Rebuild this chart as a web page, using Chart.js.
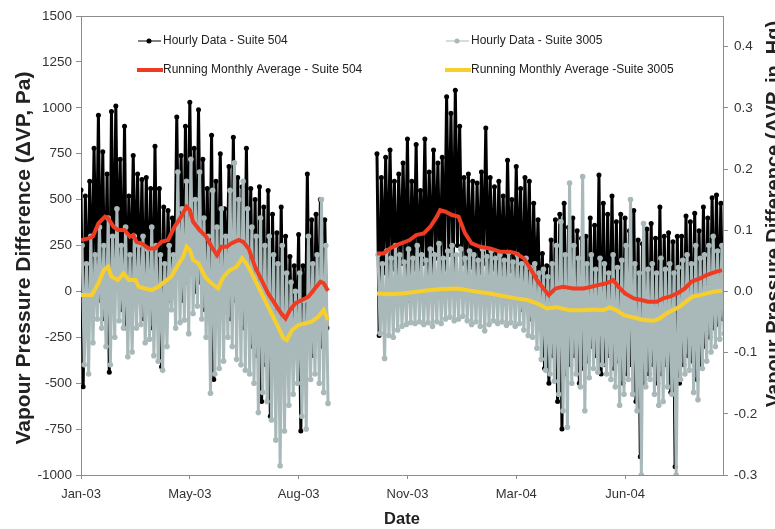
<!DOCTYPE html>
<html>
<head>
<meta charset="utf-8">
<title>Vapour Pressure Difference</title>
<script src="https://cdn.jsdelivr.net/npm/chart.js@4.4.1/dist/chart.umd.min.js"></script>
<style>
  body { margin: 0; background: #fff; }
  canvas { display: block; }
</style>
</head>
<body>
<canvas id="chart" width="775" height="529"></canvas>
<script>
// Axis ticks (x = days from the start of the axis)
const tickDays = [0, 100, 200, 300, 400, 500];
const tickLabels = ['Jan-03', 'May-03', 'Aug-03', 'Nov-03', 'Mar-04', 'Jun-04'];
const inHgTicks = [-0.3, -0.2, -0.1, 0.0, 0.1, 0.2, 0.3, 0.4];

const seriesNames = [
    'Hourly Data - Suite 504',
    'Hourly Data - Suite 3005',
    'Running Monthly Average - Suite 504',
    'Running Monthly Average -Suite 3005'
];

// Hourly data, read as alternating highs / lows every 2 days
const startA = 0;
const startB = 272;
const gapDay = 250;

const hi504a = [552, 520, 600, 780, 960, 760, 640, 980, 1010, 720, 900, 520, 740, 640, 610, 620, 560, 790, 560, 460,
    440, 400, 950, 740, 900, 1030, 780, 990, 720, 560, 850, 600, 750, 450, 680, 840, 620, 570, 780, 560,
    500, 570, 460, 550, 420, 320, 460, 300, 190, 140, 310, 140, 640, 390, 420, 500, 390];
const lo504a = [-520, -100, 0, 50, -50, -150, -440, 20, 80, -100, -200, 0, 50, -50, -150, -80, -200, -100, -410, -150,
    -50, 0, 80, -50, 50, 100, 0, 50, -100, -150, -480, -100, -50, 0, -150, -50, -100, -200, -150, -300,
    -350, -600, -400, -680, -350, -500, -450, -400, -350, -300, -760, -400, -300, -350, -250, -300, -200];
const hi504b = [750, 620, 730, 770, 600, 640, 700, 830, 600, 800, 550, 830, 650, 770, 700, 730, 1060, 970, 1095, 900,
    620, 640, 600, 590, 650, 890, 620, 570, 600, 520, 715, 500, 680, 560, 620, 600, 480, 390, 207, 140,
    280, 390, 420, 480, 350, 400, 330, 290, 300, 400, 360, 634, 480, 420, 520, 380, 420, 400, 330, 440,
    280, 260, 340, 370, 290, 460, 300, 320, 270, 300, 300, 410, 380, 425, 330, 460, 400, 510, 525, 480];
const lo504b = [-240, 100, 50, 120, 0, 150, 80, -50, 120, 60, 150, 20, 100, 180, 50, 120, 200, 80, 250, 150,
    60, 130, -20, 100, 150, 40, 120, 0, 90, -60, 110, 20, 80, -100, 30, -150, -50, -200, -420, -500,
    -350, -600, -750, -450, -400, -350, -500, -420, -380, -300, -350, -450, -400, -350, -420, -380, -500, -450, -400, -600,
    -900, -500, -450, -400, -500, -450, -400, -550, -955, -500, -400, -350, -380, -480, -400, -300, -250, -200, -180, -150];

const hi3005a = [250, 150, 300, 200, 350, 250, 400, 300, 450, 250, 350, 200, 300, 250, 300, 230, 350, 250, 200, 150,
    250, 200, 650, 450, 600, 720, 500, 650, 400, 300, 550, 350, 450, 300, 550, 700, 500, 600, 450, 350,
    300, 400, 250, 300, 200, 150, 250, 100, 50, 0, 100, -50, 300, 150, 200, 500, 250];
const lo3005a = [-400, -450, -280, -150, -200, -300, -400, -250, -160, -200, -356, -330, -200, -180, -280, -260, -350, -380, -430, -300,
    -100, -200, -170, -156, -230, -120, -80, -150, -250, -555, -450, -420, -380, -250, -300, -370, -400, -430, -450, -500,
    -660, -550, -600, -700, -810, -950, -760, -620, -560, -500, -680, -750, -480, -450, -500, -550, -610];
const hi3005b = [200, 150, 220, 180, 250, 200, 160, 230, 180, 250, 200, 170, 230, 200, 260, 180, 220, 250, 200, 230,
    180, 220, 200, 170, 230, 190, 220, 180, 200, 170, 210, 160, 200, 150, 180, 130, 150, 100, 120, 80,
    150, 250, 380, 200, 590, 250, 180, 625, 150, 200, 120, 180, 150, 100, 200, 130, 170, 250, 500, 150,
    100, 370, 120, 150, 100, 180, 120, 150, 100, 130, 170, 200, 150, 250, 180, 200, 250, 300, 220, 250];
const lo3005b = [-229, -365, -240, -250, -210, -190, -180, -170, -175, -165, -180, -170, -190, -165, -175, -150, -140, -160, -150, -135,
    -160, -180, -165, -190, -215, -180, -160, -175, -165, -185, -170, -190, -175, -210, -240, -250, -310, -370, -430, -450,
    -490, -560, -650, -740, -500, -450, -520, -650, -470, -420, -440, -400, -450, -480, -520, -620, -560, -480, -560, -650,
    -1000, -520, -480, -560, -620, -600, -520, -560, -1000, -480, -450, -430, -550, -590, -420, -380, -330, -300, -260, -230];

// Running monthly averages
const avgDays504 = [0, 7, 11, 16, 22, 25, 30, 34, 40, 45, 48, 51, 56, 62, 68, 74, 80, 86, 92, 97,
    100, 103, 109, 115, 120, 125, 129, 134, 138, 145, 149, 154, 160, 166, 172, 178, 184, 188, 192, 197,
    203, 209, 215, 220, 223, 227, gapDay,
    272, 278, 284, 290, 296, 302, 308, 315, 321, 327, 330, 335, 341, 347, 353, 359, 367, 376, 385, 394,
    400, 407, 413, 419, 425, 430, 436, 443, 452, 462, 469, 475, 483, 489, 494, 500, 508, 515, 521, 529,
    535, 541, 548, 555, 561, 569, 575, 581, 589];
const avg504 = [280, 289, 300, 370, 407, 398, 352, 334, 334, 298, 307, 270, 261, 234, 234, 270, 280, 352, 407, 461,
    443, 379, 334, 298, 243, 198, 243, 243, 261, 280, 270, 234, 134, 62, -11, -65, -120, -147, -102, -65,
    -47, -29, 16, 53, 44, 4, null,
    207, 207, 234, 252, 265, 280, 307, 316, 352, 407, 443, 434, 416, 407, 316, 261, 243, 234, 216, 216,
    207, 180, 125, 62, 16, -20, 16, 25, 16, 16, 25, 34, 44, 62, 25, -11, -38, -47, -56, -56,
    -38, -29, -11, 16, 53, 71, 89, 102, 116];

const avgDays3005 = [0, 10, 16, 21, 25, 28, 34, 39, 44, 50, 53, 59, 65, 71, 77, 83, 89, 94, 97, 100,
    103, 108, 114, 120, 126, 131, 137, 143, 148, 152, 157, 163, 169, 175, 181, 186, 189, 194, 200, 206,
    212, 218, 223, 227, gapDay,
    272, 284, 296, 308, 321, 333, 346, 355, 364, 376, 388, 400, 410, 419, 428, 437, 449, 462, 471, 480,
    486, 492, 499, 508, 517, 526, 532, 538, 544, 550, 556, 562, 569, 575, 581, 589];
const avg3005 = [-20, -20, 44, 116, 134, 80, 62, 98, 62, 62, 25, 16, 7, 25, 53, 80, 143, 189, 243, 225,
    171, 153, 80, 44, 16, 80, 116, 134, 180, 153, 98, 25, -47, -120, -192, -256, -265, -210, -183, -174,
    -165, -138, -102, -156, null,
    -11, -16, -11, -2, 7, 13, 16, 7, -2, -11, -25, -38, -47, -65, -93, -87, -102, -102, -98, -102,
    -87, -102, -129, -142, -156, -160, -147, -120, -102, -84, -56, -29, -20, -11, -2, 3];

const colors = ['#000000', '#a9b9b9', '#ee3b22', '#f7cf2d'];
const FONT = '"Liberation Sans", Arial, sans-serif';

// Build point lists
function hourlyPoints(hiA, loA, hiB, loB, shift) {
    const points = [];
    hiA.forEach((v, i) => {
        points.push({ x: startA + shift + i * 4, y: v });
        points.push({ x: startA + shift + i * 4 + 2, y: loA[i] });
    });
    points.push({ x: gapDay, y: null });
    hiB.forEach((v, i) => {
        points.push({ x: startB + shift + i * 4, y: v });
        points.push({ x: startB + shift + i * 4 + 2, y: loB[i] });
    });
    return points;
}

function avgPoints(days, values) {
    return days.map((d, i) => ({ x: d, y: values[i] }));
}

function drawVerticalTitle(ctx, text, x, y, size) {
    ctx.save();
    ctx.font = 'bold ' + size + 'px ' + FONT;
    ctx.fillStyle = '#222';
    ctx.textAlign = 'center';
    ctx.textBaseline = 'alphabetic';
    ctx.translate(x, y);
    ctx.rotate(-Math.PI / 2);
    ctx.fillText(text, 0, 0);
    ctx.restore();
}

// Legend, axis titles, plot frame
const extrasPlugin = {
    id: 'extras',
    afterDraw(chart) {
        const ctx = chart.ctx;
        const area = chart.chartArea;
        ctx.save();

        ctx.strokeStyle = '#8c8c8c';
        ctx.lineWidth = 1;
        ctx.beginPath();
        ctx.moveTo(area.left, area.top + 0.5);
        ctx.lineTo(area.right, area.top + 0.5);
        ctx.stroke();

        const rows = [41, 70];
        const cols = [137, 445];
        ctx.font = '12px ' + FONT;
        ctx.textBaseline = 'middle';
        seriesNames.forEach((name, i) => {
            const x = cols[i % 2];
            const y = rows[Math.floor(i / 2)];
            ctx.strokeStyle = colors[i];
            if (i < 2) {
                ctx.lineWidth = 1;
                ctx.beginPath();
                ctx.moveTo(x + 1, y);
                ctx.lineTo(x + 24, y);
                ctx.stroke();
                ctx.fillStyle = colors[i];
                ctx.beginPath();
                ctx.arc(x + 12, y, 2.5, 0, Math.PI * 2);
                ctx.fill();
            } else {
                ctx.lineWidth = 4;
                ctx.beginPath();
                ctx.moveTo(x, y);
                ctx.lineTo(x + 26, y);
                ctx.stroke();
            }
            ctx.fillStyle = '#222';
            ctx.fillText(name, x + 26, y);
        });
        ctx.restore();

        drawVerticalTitle(ctx, 'Vapour Pressure Difference (\u0394VP, Pa)', 30, 258, 21);
        drawVerticalTitle(ctx, 'Vapour Pressure Difference (\u0394VP, in. Hg)', 780, 214, 20);
    }
};

const ctx = document.getElementById('chart').getContext('2d');
new Chart(ctx, {
    type: 'line',
    data: {
        datasets: [
            {
                label: seriesNames[0],
                data: hourlyPoints(hi504a, lo504a, hi504b, lo504b, 0),
                borderColor: colors[0],
                backgroundColor: colors[0],
                borderWidth: 3,
                pointRadius: 2.5,
                pointBorderWidth: 0,
                order: 4
            },
            {
                label: seriesNames[1],
                data: hourlyPoints(hi3005a, lo3005a, hi3005b, lo3005b, 1),
                borderColor: colors[1],
                backgroundColor: colors[1],
                borderWidth: 3,
                pointRadius: 2.8,
                pointBorderWidth: 0,
                order: 3
            },
            {
                label: seriesNames[2],
                data: avgPoints(avgDays504, avg504),
                borderColor: colors[2],
                borderWidth: 4,
                pointRadius: 0,
                order: 2
            },
            {
                label: seriesNames[3],
                data: avgPoints(avgDays3005, avg3005),
                borderColor: colors[3],
                borderWidth: 4,
                pointRadius: 0,
                order: 1
            }
        ]
    },
    options: {
        responsive: false,
        animation: false,
        devicePixelRatio: 1,
        spanGaps: false,
        layout: { padding: { top: 16, left: 0, right: 0, bottom: 0 } },
        plugins: { legend: { display: false }, tooltip: { enabled: false } },
        scales: {
            x: {
                type: 'linear',
                min: 0,
                max: 590,
                afterBuildTicks: axis => { axis.ticks = tickDays.map(v => ({ value: v })); },
                afterFit: scale => { scale.height = 54; },
                ticks: {
                    callback: (v, i) => tickLabels[i],
                    maxRotation: 0,
                    autoSkip: false,
                    padding: 8,
                    color: '#333',
                    font: { family: FONT, size: 13 }
                },
                grid: { drawOnChartArea: false, tickLength: 4, color: '#8c8c8c' },
                border: { color: '#8c8c8c' },
                title: {
                    display: true,
                    text: 'Date',
                    color: '#222',
                    padding: { top: 0, bottom: 0 },
                    font: { family: FONT, size: 16.5, weight: 'bold' }
                }
            },
            y: {
                position: 'left',
                min: -1000,
                max: 1500,
                afterFit: scale => { scale.width = 81; },
                ticks: {
                    stepSize: 250,
                    callback: v => String(v),
                    padding: 4,
                    color: '#333',
                    font: { family: FONT, size: 13.5 }
                },
                grid: { drawOnChartArea: false, tickLength: 5, color: '#8c8c8c' },
                border: { color: '#8c8c8c' }
            },
            y2: {
                position: 'right',
                min: -0.3,
                max: 0.45,
                afterBuildTicks: axis => { axis.ticks = inHgTicks.map(v => ({ value: v })); },
                afterFit: scale => { scale.width = 52; },
                ticks: {
                    callback: v => v.toFixed(1),
                    padding: 6,
                    color: '#333',
                    font: { family: FONT, size: 13.5 }
                },
                grid: { drawOnChartArea: false, tickLength: 5, color: '#8c8c8c' },
                border: { color: '#8c8c8c' }
            }
        }
    },
    plugins: [extrasPlugin]
});
</script>
</body>
</html>
